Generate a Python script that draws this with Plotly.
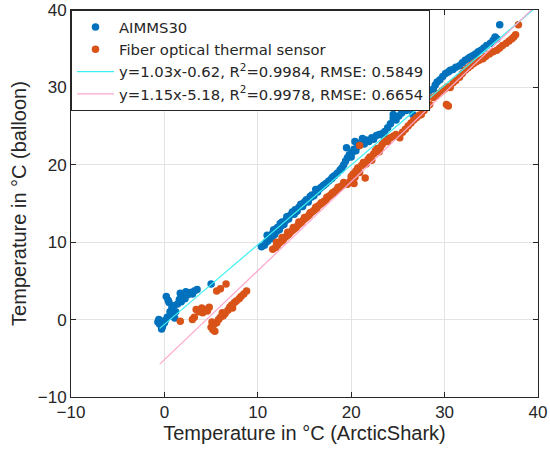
import plotly.graph_objects as go

# ---- data ----
aimms_x = [-0.7, -0.6, -0.5, -0.3, -0.2, 0.0, 0.1, 0.3, 0.2, 0.4, 0.5, 0.8, 1.0, 1.2, 1.1, 0.9,
           1.4, 1.6, 1.7, 2.0, 2.2, 2.5, 2.8, 3.2, 3.5, 3.0, 1.8, 2.3, 5.0, 0.6,
           10.4, 10.7, 10.9, 11.1, 11.3, 11.5, 11.6, 11.8, 12.0, 12.1, 12.3, 12.5, 12.6, 12.8,
           13.0, 13.1, 13.3, 13.5, 13.7, 13.9, 14.0, 14.2, 14.4, 14.6, 14.8, 15.0, 15.2, 15.4,
           15.6, 15.8, 16.0, 16.2, 16.4, 16.6, 16.8, 17.0, 17.3, 17.6, 17.9, 18.2, 18.5, 18.8,
           19.0, 19.2, 19.4, 19.6, 19.5, 19.8, 20.0, 20.1, 20.3, 20.5, 20.7, 20.9, 21.1, 21.4,
           21.6, 21.9, 22.2, 22.4, 22.7, 23.0, 23.3, 23.5, 20.4, 21.2,
           11.0, 11.7, 12.4, 13.2, 14.1, 14.9, 15.7, 17.1, 18.0, 18.9,
           23.6, 23.9, 24.2, 24.5, 24.5, 24.8, 25.1, 25.4, 25.6, 25.9, 26.2, 26.6, 26.8, 27.0,
           27.3, 27.6, 27.9, 28.1, 28.4, 28.8, 29.0, 29.2, 29.5, 29.8, 30.1, 30.4, 30.6, 30.9,
           31.2, 31.6, 31.9, 32.2, 32.5, 32.7, 33.0, 33.3, 33.6, 33.9, 34.2, 34.5, 34.9, 35.2,
           35.4, 35.6, 35.9]
aimms_y = [-0.3, 0.0, -0.6, -1.2, -0.9, -0.4, -0.1, 0.3, 3.0, 2.5, 2.2, 1.5, 1.8, 1.0, 0.2, 0.6,
           2.0, 2.6, 3.4, 3.0, 2.7, 3.2, 3.5, 3.7, 3.9, 3.3, 2.3, 3.6, 4.6, 1.0,
           9.4, 9.6, 10.0, 10.2, 10.7, 10.5, 11.2, 11.0, 11.4, 11.9, 11.6, 12.1, 12.6, 12.3,
           12.8, 13.3, 13.0, 13.5, 13.9, 13.6, 14.2, 14.0, 14.5, 14.9, 14.6, 15.2, 15.5, 15.2,
           15.9, 16.1, 16.0, 16.8, 16.5, 16.9, 17.1, 17.3, 17.6, 17.9, 18.2, 18.6, 18.9, 19.3,
           19.6, 20.0, 20.5, 20.9, 22.2, 21.3, 21.0, 21.6, 22.0, 21.8, 22.4, 22.6, 22.9, 22.7,
           23.2, 23.0, 23.5, 23.3, 23.8, 23.9, 24.0, 23.7, 23.0, 23.4,
           10.9, 11.6, 12.4, 13.2, 14.1, 15.0, 15.8, 17.4, 18.4, 19.4,
           24.3, 24.8, 25.3, 26.0, 26.5, 25.8, 26.3, 26.7, 27.4, 27.0, 27.3, 26.5, 27.6, 27.8,
           28.3, 28.7, 29.1, 29.2, 29.6, 29.8, 30.3, 30.7, 31.0, 31.4, 31.8, 32.0, 32.2, 32.3,
           32.6, 32.8, 33.2, 33.5, 33.7, 33.9, 34.1, 34.3, 34.6, 34.8, 35.1, 35.4, 35.7, 36.1,
           36.5, 36.3, 38.1]

fiber_x = [1.7, 3.0, 3.2, 3.4, 3.7, 4.0, 4.3, 4.6, 4.8, 4.1, 5.6, 6.0, 6.6, 5.0, 5.2, 5.4,
           5.3, 5.6, 5.8, 6.0, 6.3, 6.5, 6.8, 7.0, 7.2, 7.5, 7.7, 8.0, 8.2, 8.5, 8.8, 6.2, 7.3, 5.1,
           11.6, 11.9, 12.1, 12.3, 12.5, 12.7, 12.9, 13.1, 13.3, 13.5, 13.7, 13.9, 14.1, 14.3,
           14.5, 14.7, 14.9, 15.1, 15.3, 15.5, 15.7, 15.9, 16.1, 16.3, 16.5, 16.7, 16.9, 17.1,
           17.3, 17.5, 17.7, 17.9, 18.1, 18.3, 18.5, 18.7, 18.9, 19.1,
           12.0, 12.6, 13.2, 13.8, 14.4, 15.0, 15.6, 16.2, 16.8, 17.4, 18.0, 18.6, 19.2,
           19.6, 19.9, 20.0, 20.2, 20.4, 20.5, 20.7, 20.9, 21.1, 21.3, 21.5, 21.6, 21.8, 22.0,
           22.2, 22.4, 22.6, 22.8, 23.0, 23.1, 23.3, 23.5, 23.7, 23.9, 24.2, 24.5, 20.9, 20.3,
           24.8, 25.2, 25.5, 25.8, 26.1, 26.4, 26.7, 27.0, 27.3, 27.5, 27.8, 28.1, 28.4, 28.8,
           29.1, 29.4, 29.7, 30.0, 30.3, 30.6, 30.2, 30.4, 30.9, 31.2, 31.6, 31.9, 32.2, 32.5,
           32.8, 33.1, 33.4, 33.7, 34.1, 34.4, 34.8, 35.2, 35.6, 35.9, 36.2, 36.6, 36.9, 37.2,
           37.4, 37.6, 37.9]
fiber_y = [-0.2, 0.0, 0.3, 1.3, 1.0, 1.5, 1.3, 1.1, 1.6, 0.9, 3.7, 4.0, 4.6, -1.0, -1.3, -1.5,
           -0.6, -0.4, 0.0, 0.3, 0.5, 0.8, 1.2, 1.6, 1.9, 2.2, 2.4, 2.7, 3.0, 3.3, 3.7, 0.9, 1.5, -0.3,
           9.1, 9.3, 9.6, 9.9, 10.1, 10.3, 10.6, 10.8, 11.0, 11.3, 11.5, 11.7, 11.9, 12.2,
           12.4, 12.6, 12.9, 13.1, 13.3, 13.5, 13.8, 14.0, 14.2, 14.4, 14.7, 14.9, 15.1, 15.3,
           15.5, 15.8, 16.0, 16.2, 16.4, 16.6, 16.8, 17.0, 17.2, 17.4,
           10.0, 10.6, 11.3, 11.9, 12.6, 13.2, 13.8, 14.5, 15.1, 15.8, 16.4, 17.1, 17.7,
           17.5, 17.9, 18.5, 18.8, 18.4, 19.2, 19.6, 19.0, 19.9, 20.3, 18.3, 20.1, 20.7, 21.0,
           20.6, 21.4, 21.8, 22.1, 21.7, 22.2, 22.6, 22.9, 23.2, 23.0, 23.5, 23.7, 22.5, 17.6,
           23.9, 23.5, 24.2, 24.6, 25.0, 25.4, 25.8, 26.1, 26.4, 26.5, 27.0, 27.4, 27.8, 28.7,
           28.9, 29.2, 29.5, 29.8, 30.1, 30.0, 27.8, 27.6, 30.6, 30.9, 31.3, 31.8, 32.2, 32.5,
           32.8, 33.1, 33.3, 33.5, 33.7, 34.0, 34.3, 34.6, 34.8, 35.1, 35.4, 35.7, 36.0, 36.3,
           36.5, 36.8, 38.1]

fit_x = [-0.5, 40.0]
fit_a = [1.03, -0.62]
fit_b = [1.15, -5.18]
label_a = "y=1.03x-0.62, R<sup>2</sup>=0.9984, RMSE: 0.5849"
label_b = "y=1.15x-5.18, R<sup>2</sup>=0.9978, RMSE: 0.6654"
x_ticks = [-10, 0, 10, 20, 30, 40]
y_ticks = [-10, 0, 10, 20, 30, 40]

fit_a_y = [fit_a[0] * v + fit_a[1] for v in fit_x]
fit_b_y = [fit_b[0] * v + fit_b[1] for v in fit_x]

FONT = "Liberation Sans, Arial, sans-serif"
LEGFONT = "DejaVu Sans, Liberation Sans, sans-serif"
AX = "#262626"

fig = go.Figure()
fig.add_trace(go.Scatter(x=aimms_x, y=aimms_y, mode="markers", name="AIMMS30",
                         marker=dict(color="#0072BD", size=7.5, line=dict(width=0))))
fig.add_trace(go.Scatter(x=fiber_x, y=fiber_y, mode="markers", name="Fiber optical thermal sensor",
                         marker=dict(color="#D95319", size=7.5, line=dict(width=0))))
fig.add_trace(go.Scatter(x=fit_x, y=fit_a_y, mode="lines", name=label_a,
                         line=dict(color="#3FF0F0", width=1.2)))
fig.add_trace(go.Scatter(x=fit_x, y=fit_b_y, mode="lines", name=label_b,
                         line=dict(color="#FFA6CC", width=1.2)))

axis_common = dict(showgrid=True, gridcolor="#E3E3E3", gridwidth=1,
                   showline=True, linecolor=AX, linewidth=1, mirror="ticks",
                   ticks="inside", ticklen=5, tickcolor=AX, zeroline=False,
                   automargin=False,
                   tickfont=dict(family=FONT, size=17, color=AX))

fig.update_xaxes(range=[-10, 40], tickvals=x_ticks,
                 title=dict(text="Temperature in °C (ArcticShark)", font=dict(family=FONT, size=20, color=AX), standoff=4),
                 **axis_common)
fig.update_yaxes(range=[-10, 40], tickvals=y_ticks,
                 title=dict(text="Temperature in °C (balloon)", font=dict(family=FONT, size=20, color=AX), standoff=5),
                 **axis_common)

fig.update_layout(
    width=550, height=454,
    margin=dict(l=71, r=12, t=10, b=57, autoexpand=False),
    paper_bgcolor="white", plot_bgcolor="white",
    font=dict(family=FONT, color=AX),
    legend=dict(x=0, y=1, xanchor="left", yanchor="top",
                bgcolor="white", bordercolor=AX, borderwidth=1,
                font=dict(family=LEGFONT, size=14.8, color=AX),
                itemwidth=37, tracegroupgap=0),
    showlegend=True,
)

# remove the default 8px page margin so the figure fills the 550x454 window
fig.write_html("out.html", config={"displayModeBar": False},
               post_script="document.body.style.margin='0';")
